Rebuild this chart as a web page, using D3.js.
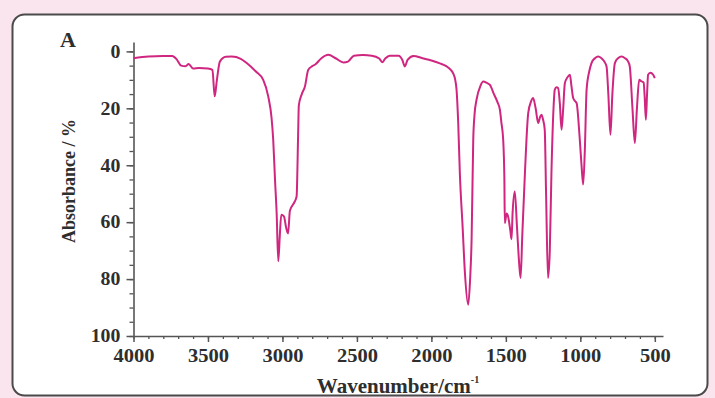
<!DOCTYPE html>
<html>
<head>
<meta charset="utf-8">
<script src="https://cdn.jsdelivr.net/npm/d3@7"></script>
<style>
  html, body { margin: 0; padding: 0; background: #fae4ee; }
  svg { display: block; }
  .tick text { font-family: "Liberation Serif", "DejaVu Serif", serif; font-weight: bold; }
</style>
</head>
<body>
<svg id="chart" width="715" height="398"></svg>
<script>
// IR spectrum (wavenumber in cm-1, absorbance in %)
var wavenumbers = [4000, 3900, 3800, 3740, 3710, 3680, 3650, 3630, 3600, 3560, 3500, 3470, 3455, 3440, 3420,
  3380, 3340, 3280, 3240, 3180, 3129, 3095, 3073, 3062, 3050, 3039, 3028, 3018, 3008, 2990, 2975, 2962,
  2950, 2920, 2905, 2895, 2890, 2870, 2849, 2827, 2800, 2782, 2740, 2693, 2640, 2590, 2560, 2520, 2460,
  2400, 2350, 2330, 2310, 2280, 2220, 2195, 2178, 2160, 2120, 2060, 2000, 1943, 1900, 1870, 1854, 1840,
  1831, 1820, 1809, 1790, 1775, 1753, 1740, 1730, 1719, 1710, 1697, 1670, 1652, 1630, 1607, 1580, 1555,
  1540, 1530, 1518, 1510, 1507, 1495, 1485, 1470, 1462, 1455, 1440, 1425, 1410, 1401, 1390, 1372, 1350,
  1330, 1317, 1300, 1283, 1270, 1261, 1250, 1239, 1230, 1217, 1205, 1194, 1180, 1172, 1160, 1149, 1138,
  1126, 1115, 1104, 1085, 1070, 1060, 1048, 1035, 1025, 1005, 992, 981, 970, 958, 940, 925, 900, 880,
  860, 840, 824, 812, 798, 785, 768, 745, 724, 700, 680, 668, 650, 634, 620, 605, 590, 575, 568, 560,
  552, 545, 530, 511, 500];
var absorbance = [2.4, 1.8, 1.6, 1.6, 2.8, 5.0, 5.2, 4.4, 6.0, 5.8, 6.0, 6.5, 15.8, 10, 3.6,
  1.9, 1.8, 2.6, 4.1, 7, 10, 15.9, 23.4, 31, 45, 56.7, 73.7, 65, 57.4, 58, 62, 64,
  56, 53, 51, 30, 19, 15, 12.3, 6.5, 5.2, 4.7, 2.5, 1.2, 2.5, 3.9, 3.6, 1.5, 1.3,
  1.5, 2.5, 3.8, 2.5, 1.5, 1.5, 3, 5.3, 3, 1.6, 2.4, 3.2, 4.2, 5.2, 6.5, 7.7, 10,
  13.5, 25, 42.7, 62, 77.7, 89, 80, 66, 31, 22, 17, 12, 10.6, 11, 11.8, 15, 18,
  20.5, 25, 31, 45, 60.3, 57, 58, 63, 66, 57, 49.2, 62, 75, 79.6, 65, 42.7, 21.7,
  17.5, 16.4, 20, 25.2, 23, 22.3, 24, 27.5, 50, 79.6, 70, 42.7, 20, 13.5, 12.6, 12.9, 18,
  27.5, 20, 11.2, 9, 8.2, 12, 16.4, 17.5, 18.2, 30, 40, 46.8, 35, 13.5, 7, 4.1, 2.3, 1.8,
  2.3, 3.5, 5.3, 15, 29.3, 15, 4.1, 2.3, 1.8, 2.4, 3.5, 5.3, 20, 32.2, 20, 10, 10.5, 11, 16, 24,
  15, 8.2, 7.5, 8.2, 9.4];

var xTickValues = [4000, 3500, 3000, 2500, 2000, 1500, 1000, 500];
var yTickValues = [0, 20, 40, 60, 80, 100];

var serif = '"Liberation Serif", "DejaVu Serif", serif';
var svg = d3.select('#chart');

// panel
svg.append('rect')
  .attr('x', 12.5).attr('y', 14.5)
  .attr('width', 695).attr('height', 381)
  .attr('rx', 12).attr('ry', 12)
  .attr('fill', '#fff')
  .attr('stroke', '#4a4a4a')
  .attr('stroke-width', 2);

var x = d3.scaleLinear().domain([4000, 445]).range([133.5, 663]);
var y = d3.scaleLinear().domain([-3.3, 100]).range([42, 336]);

var data = wavenumbers.map(function (w, i) { return { x: w, y: absorbance[i] }; });

// minor ticks
var xMinor = d3.range(4000, 445, -100);
svg.append('g')
  .attr('transform', 'translate(0,' + y(100) + ')')
  .call(d3.axisBottom(x).tickValues(xMinor).tickSize(3).tickFormat(''))
  .call(function (g) { g.select('.domain').remove(); })
  .selectAll('line').attr('stroke', '#555').attr('stroke-width', 1.3);
var yMinor = d3.range(0, 101, 5);
svg.append('g')
  .attr('transform', 'translate(' + x(4000) + ',0)')
  .call(d3.axisLeft(y).tickValues(yMinor).tickSize(4).tickFormat(''))
  .call(function (g) { g.select('.domain').remove(); })
  .selectAll('line').attr('stroke', '#555').attr('stroke-width', 1.3);

// x axis
var xAxis = svg.append('g')
  .attr('transform', 'translate(0,' + y(100) + ')')
  .call(d3.axisBottom(x).tickValues(xTickValues).tickFormat(d3.format('d'))
    .tickSize(6).tickSizeOuter(0).tickPadding(7));
xAxis.select('.domain').attr('stroke', '#555').attr('stroke-width', 1.6);
xAxis.selectAll('line').attr('stroke', '#555').attr('stroke-width', 1.5);
xAxis.selectAll('text').attr('font-size', 18).attr('fill', '#2e2e2e')
  .attr('transform', 'scale(1.14,1)');

// y axis
var yAxis = svg.append('g')
  .attr('transform', 'translate(' + x(4000) + ',0)')
  .call(d3.axisLeft(y).tickValues(yTickValues).tickFormat(d3.format('d'))
    .tickSize(7).tickSizeOuter(0).tickPadding(5));
yAxis.select('.domain').attr('stroke', '#555').attr('stroke-width', 1.6);
yAxis.selectAll('line').attr('stroke', '#555').attr('stroke-width', 1.5);
yAxis.selectAll('text').attr('font-size', 18).attr('fill', '#2e2e2e')
  .attr('transform', 'scale(1.1,1)');

// spectrum
var line = d3.line()
  .x(function (d) { return x(d.x); })
  .y(function (d) { return y(d.y); })
  .curve(d3.curveMonotoneX);
svg.append('path')
  .datum(data)
  .attr('d', line)
  .attr('fill', 'none')
  .attr('stroke', '#cf2680')
  .attr('stroke-width', 2)
  .attr('stroke-linejoin', 'round');

// labels
svg.append('text')
  .attr('x', 60).attr('y', 47)
  .attr('font-family', serif).attr('font-weight', 'bold')
  .attr('font-size', 22).attr('fill', '#2e2e2e')
  .text('A');

var xTitle = svg.append('text')
  .attr('x', 398).attr('y', 393)
  .attr('text-anchor', 'middle')
  .attr('font-family', serif).attr('font-weight', 'bold')
  .attr('font-size', 21).attr('fill', '#2e2e2e');
xTitle.append('tspan').text('Wavenumber/cm');
xTitle.append('tspan').attr('dy', -10).attr('font-size', 10).text('-1');

svg.append('text')
  .attr('transform', 'translate(75,181) rotate(-90)')
  .attr('text-anchor', 'middle')
  .attr('font-family', serif).attr('font-weight', 'bold')
  .attr('font-size', 18).attr('fill', '#2e2e2e')
  .text('Absorbance / %');
</script>
</body>
</html>
